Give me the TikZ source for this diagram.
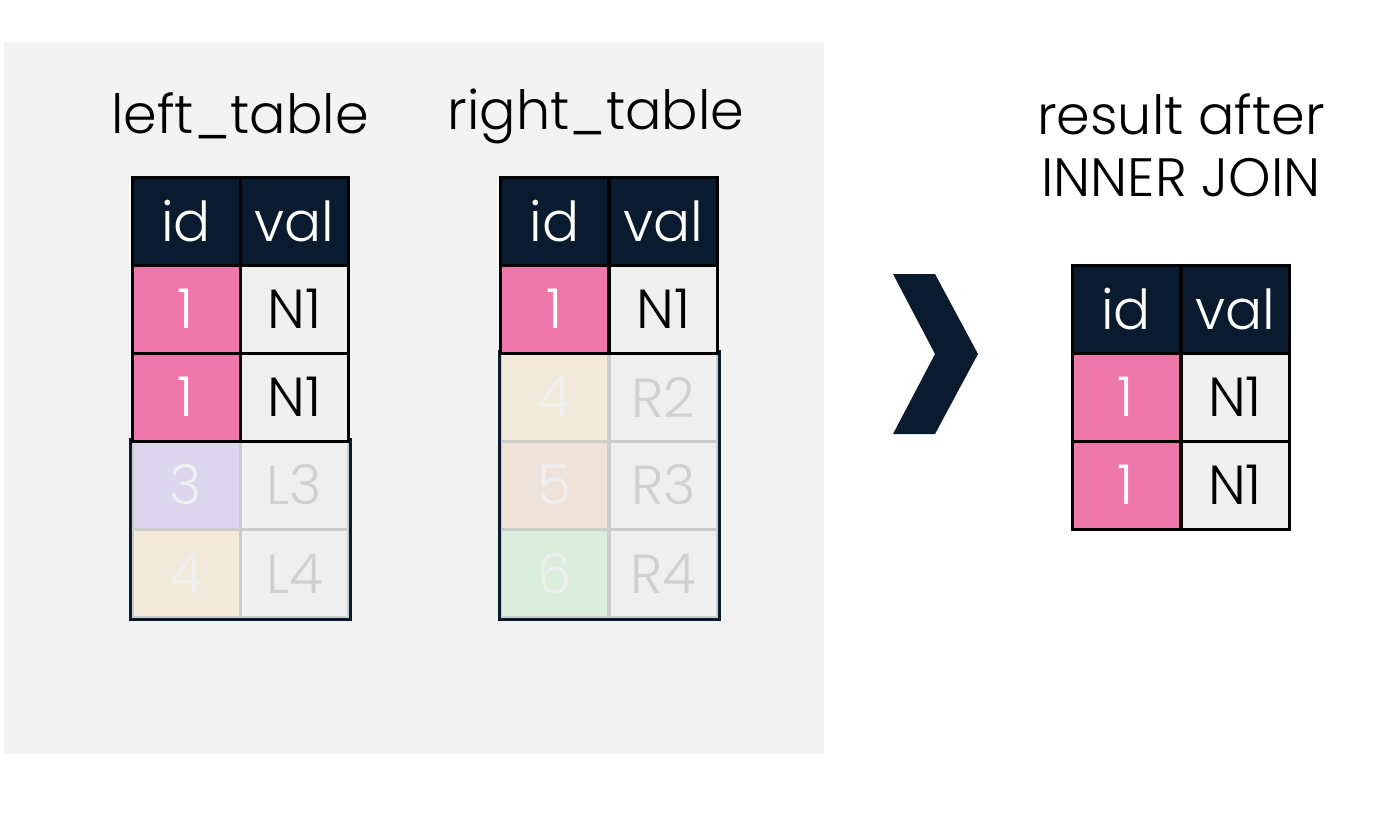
\documentclass[tikz,border=0pt]{standalone}
\usepackage{fontspec}
\setmainfont{Poppins Light}
\definecolor{navy}{HTML}{0B1B2F}
\definecolor{bgg}{HTML}{F3F3F3}
\definecolor{pinkc}{HTML}{EE78A9}
\definecolor{valc}{HTML}{EFEFEF}
\definecolor{lav}{HTML}{DCD5EE}
\definecolor{beig}{HTML}{F1EADA}
\definecolor{peach}{HTML}{EFE2D8}
\definecolor{mint}{HTML}{DBEDDC}
\definecolor{fadetxt}{HTML}{D0D0D0}
\definecolor{fadeline}{HTML}{CCCCCC}
\begin{document}
\begin{tikzpicture}[x=1pt,y=-1pt,
  cellbox/.style={minimum width=108pt,minimum height=88pt,inner sep=0pt,font=\fontsize{55}{55}\selectfont},
  hdr/.style={cellbox,fill=navy,draw=black,line width=3pt,text=white},
  hit/.style={cellbox,fill=pinkc,draw=black,line width=3pt,text=white},
  hitval/.style={cellbox,fill=valc,draw=black,line width=3pt,text=black},
  fade/.style={cellbox,draw=fadeline,line width=3pt,text=valc},
  fadeval/.style={cellbox,fill=valc,draw=fadeline,line width=3pt,text=fadetxt},
  fadeframe/.style={draw=navy,line width=3pt},
  title/.style={font=\fontsize{54}{62}\selectfont,align=center}]
\useasboundingbox (0,0) rectangle (1388,812);
\fill[bgg] (4,42) rectangle (824,754);
% titles
\node[title] (tl) at (240,116) {left\_table};
\node[title] (tr) at (596,116) {right\_table};
\node[title] (tres) at (1181,145) {result after\\INNER JOIN};
% left table faded rows
\node[fade,fill=lav] (l31) at (186,485) {3};
\node[fadeval] (l32) at (294.5,485) {L3};
\node[fade,fill=beig] (l41) at (186,573.5) {4};
\node[fadeval] (l42) at (294.5,573.5) {L4};
\draw[fadeframe] (l31.north west) rectangle (l42.south east);
% left table active
\node[hdr] (l01) at (186,221) {id};
\node[hdr] (l02) at (294.5,221) {val};
\node[hit] (l11) at (186,309) {1};
\node[hitval] (l12) at (294.5,309) {N1};
\node[hit] (l21) at (186,397) {1};
\node[hitval] (l22) at (294.5,397) {N1};
% right table faded rows
\node[fade,fill=beig] (r21) at (554.5,397) {4};
\node[fadeval] (r22) at (663.5,397) {R2};
\node[fade,fill=peach] (r31) at (554.5,485) {5};
\node[fadeval] (r32) at (663.5,485) {R3};
\node[fade,fill=mint] (r41) at (554.5,573.5) {6};
\node[fadeval] (r42) at (663.5,573.5) {R4};
\draw[fadeframe] (r21.north west) rectangle (r42.south east);
% right table active
\node[hdr] (r01) at (554.5,221) {id};
\node[hdr] (r02) at (663.5,221) {val};
\node[hit] (r11) at (554.5,309) {1};
\node[hitval] (r12) at (663.5,309) {N1};
% chevron
\fill[navy] (893,274) -- (935,274) -- (978,354) -- (935,434) -- (893,434) -- (935,354) -- cycle;
% result table
\node[hdr] (s01) at (1126,309) {id};
\node[hdr] (s02) at (1235,309) {val};
\node[hit] (s11) at (1126,397) {1};
\node[hitval] (s12) at (1235,397) {N1};
\node[hit] (s21) at (1126,485) {1};
\node[hitval] (s22) at (1235,485) {N1};
\end{tikzpicture}
\end{document}
